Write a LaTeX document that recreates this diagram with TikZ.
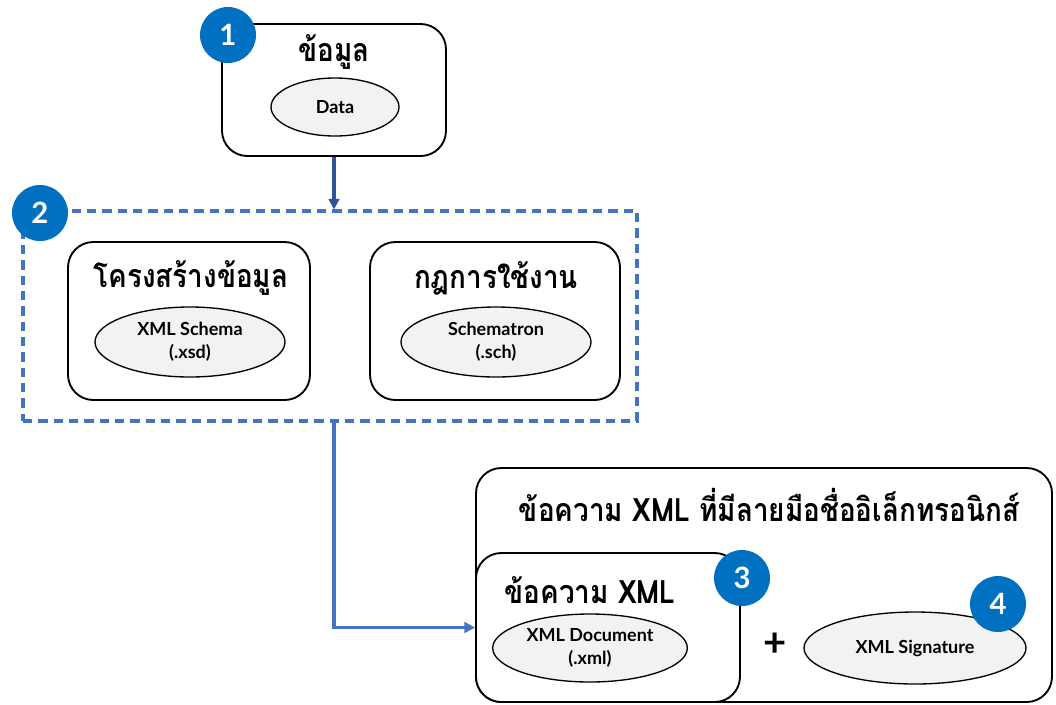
\documentclass[tikz,border=0pt]{standalone}
\usepackage{fontspec}
\setmainfont{Lato}
\newfontfamily\thaifont[Script=Thai]{Loma}
\usetikzlibrary{arrows.meta,shapes.geometric}
\definecolor{badgeblue}{HTML}{0070C0}
\definecolor{darkblue}{HTML}{2F5597}
\definecolor{midblue}{HTML}{4472C4}
\definecolor{ellgray}{HTML}{F2F2F2}
\newcommand\thaittl[1]{\scalebox{1.02}[1.18]{#1}}
\tikzset{
  box/.style={draw=black, line width=1.4pt, rounded corners=19pt, fill=white, inner sep=0pt},
  ell/.style={draw=black, line width=1pt, ellipse, fill=ellgray, align=center, inner sep=0pt,
              font=\bfseries\fontsize{13.5}{17}\selectfont},
  ttl/.style={font=\thaifont\bfseries\fontsize{20.5}{24}\selectfont, inner sep=0pt},
  badge/.style={circle, fill=badgeblue, text=white, minimum size=42pt, inner sep=0pt,
                font=\bfseries\fontsize{22}{24}\selectfont},
}
\begin{document}
\begin{tikzpicture}[x=0.75pt,y=-0.75pt]
\useasboundingbox (0,0) rectangle (1056,704);
% box 1
\node[box, minimum width=168pt, minimum height=99pt] (b1) at (334,90) {};
\node[ttl] (t1) at (334,52) {\thaittl{ข้อมูล}};
\node[ell, minimum width=96pt, minimum height=43.5pt] (e1) at (335,107) {Data};
\node[badge] (n1) at (228,35) {1};
% dashed group
\node[draw=midblue, line width=2.3pt, dash pattern=on 7pt off 4.5pt, minimum width=460.5pt, minimum height=157.5pt, inner sep=0pt] (g2) at (330,316) {};
\node[box, minimum width=181.5pt, minimum height=118.5pt] (b2a) at (189,321) {};
\node[ttl] (t2a) at (191,278) {\thaittl{โครงสร้างข้อมูล}};
\node[ell, minimum width=142.5pt, minimum height=52.5pt] (e2a) at (190,342) {XML Schema\\(.xsd)};
\node[box, minimum width=187.5pt, minimum height=118.5pt] (b2b) at (495,321) {};
\node[ttl] (t2b) at (496,278) {\thaittl{กฎการใช้งาน}};
\node[ell, minimum width=142.5pt, minimum height=52.5pt] (e2b) at (496,342) {Schematron\\(.sch)};
\node[badge] (n2) at (40,213) {2};
% big box
\node[box, minimum width=432pt, minimum height=175.5pt] (b4) at (764,585) {};
\node[ttl] (t4) at (769,505) {\thaittl{ข้อความ XML ที่มีลายมือชื่ออิเล็กทรอนิกส์}};
\node[box, minimum width=198pt, minimum height=111.75pt] (b3) at (608,627.5) {};
\node[ttl] (t3) at (590,590) {\thaittl{ข้อความ XML}};
\node[ell, minimum width=146pt, minimum height=51pt] (e3) at (590,648) {XML Document\\(.xml)};
\node[font=\bfseries\fontsize{30}{30}\selectfont, inner sep=0pt] (plus) at (775,645) {+};
\node[ell, minimum width=166.5pt, minimum height=54pt] (e4) at (915,648) {XML Signature};
\node[badge] (n3) at (742,578) {3};
\node[badge] (n4) at (998,604) {4};
% connectors
\coordinate (c1) at (b1.south);
\draw[darkblue, line width=2.4pt, -{Triangle[length=8pt,width=8pt]}] (b1.south) -- (c1 |- g2.north);
\draw[midblue, line width=2.4pt, -{Triangle[length=8pt,width=8pt]}] (c1 |- g2.south) |- (b3.west);
\end{tikzpicture}
\end{document}
